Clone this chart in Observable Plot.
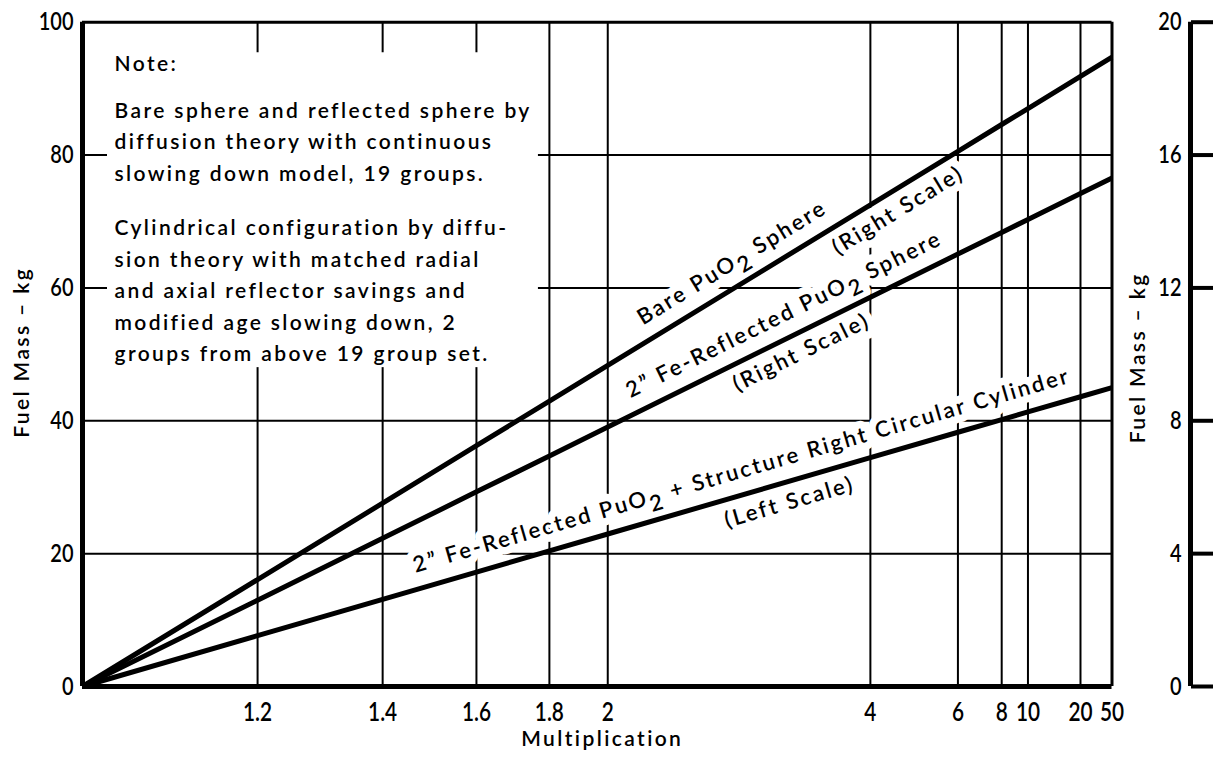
<!DOCTYPE html>
<html><head><meta charset="utf-8">
<script src="https://cdn.jsdelivr.net/npm/d3@7"></script>
<script src="https://cdn.jsdelivr.net/npm/@observablehq/plot@0.6"></script>
<style>
html,body{margin:0;padding:0;background:#fff;}
#chart svg text{font-family: Lato, "Noto Sans", sans-serif; font-weight: 600; letter-spacing: 2.4px;}
#chart svg text.num{letter-spacing: 0;}
</style>
</head><body><div id="chart"></div>
<script>
// ---- data ----
const multiplication = [1, 1.2, 1.4, 1.6, 1.8, 2, 4, 6, 8, 10, 20, 50];
const xTickLabels = [1.2, 1.4, 1.6, 1.8, 2, 4, 6, 8, 10, 20, 50];
// Bare PuO2 sphere, fuel mass kg (right scale)
const bareSphereRight = [0, 3.22, 5.52, 7.25, 8.59, 9.67, 14.50, 16.11, 16.92, 17.40, 18.37, 18.95];
// 2" Fe-reflected PuO2 sphere, fuel mass kg (right scale)
const reflectedSphereRight = [0, 2.60, 4.46, 5.86, 6.94, 7.81, 11.72, 13.02, 13.67, 14.06, 14.84, 15.31];
// 2" Fe-reflected PuO2 + structure right circular cylinder, fuel mass kg (left scale)
const cylinderLeft = [0, 7.65, 13.12, 17.22, 20.41, 22.96, 34.44, 38.27, 40.18, 41.33, 43.62, 45.00];
const leftTicks = [0, 20, 40, 60, 80, 100];
const rightTicks = [0, 4, 8, 12, 16, 20];
const yGrid = [20, 40, 60, 80];
const xLabel = "Multiplication";
const yLabel = "Fuel Mass \u2013 kg";
const noteTitle = "Note:";
const notePara1 = [
  "Bare sphere and reflected sphere by",
  "diffusion theory with continuous",
  "slowing down model, 19 groups."
];
const notePara2 = [
  "Cylindrical configuration by diffu-",
  "sion theory with matched radial",
  "and axial reflector savings and",
  "modified age slowing down, 2",
  "groups from above 19 group set."
];

// ---- layout ----
const W = 1217, H = 760;
const mT = 21.7, mR = 105.5, mB = 74, mL = 82;
const FW = W - mL - mR, FH = H - mT - mB;
const rightRatio = 100 / 20; // right scale 0-20 spans the same height as left 0-100
const k = m => 1 - 1 / m;    // multiplication axis is linear in 1 - 1/M
const xMax = k(50);

const seriesDefs = [
  {name: "bare", values: bareSphereRight, factor: rightRatio},
  {name: "reflected", values: reflectedSphereRight, factor: rightRatio},
  {name: "cylinder", values: cylinderLeft, factor: 1}
];
const rows = seriesDefs.flatMap(s => multiplication.map((m, i) => ({series: s.name, t: k(m), kg: s.values[i] * s.factor})));

function valueAt(def, m) {
  const t = k(m), v = def.values;
  for (let i = 1; i < multiplication.length; i++) {
    const t0 = k(multiplication[i - 1]), t1 = k(multiplication[i]);
    if (t <= t1) return (v[i - 1] + (v[i] - v[i - 1]) * (t - t0) / (t1 - t0)) * def.factor;
  }
  return v[v.length - 1] * def.factor;
}
function angleOf(def) {
  const last = def.values[def.values.length - 1] * def.factor;
  return Math.atan2((last / 100) * FH, FW);
}

const curveLabels = [
  {text: "Bare PuO\u2082 Sphere", s: 0, m: 2.70, side: 1, gap: 22.7},
  {text: "(Right Scale)", s: 0, m: 4.29, side: -1, gap: 19.2},
  {text: "2\u201D Fe-Reflected PuO\u2082 Sphere", s: 1, m: 3.10, side: 1, gap: 22.8},
  {text: "(Right Scale)", s: 1, m: 3.09, side: -1, gap: 18.9},
  {text: "2\u201D Fe-Reflected PuO\u2082 + Structure Right Circular Cylinder", s: 2, m: 2.73, side: 1, gap: 23.4},
  {text: "(Left Scale)", s: 2, m: 3.01, side: -1, gap: 20.3}
];

function labelMark(L, halo) {
  const def = seriesDefs[L.s];
  const th = angleOf(def);
  return Plot.text([L], {
    x: d => k(d.m), y: d => valueAt(def, d.m), text: "text",
    rotate: -th * 180 / Math.PI, textAnchor: "middle", lineAnchor: "middle",
    dx: -L.side * L.gap * Math.sin(th), dy: -L.side * L.gap * Math.cos(th),
    fontSize: 22,
    ...(halo ? {fill: "white", stroke: "white", strokeWidth: 15, strokeLinejoin: "round"} : {fill: "black"})
  });
}

const plot = Plot.plot({
  width: W, height: H,
  marginTop: mT, marginRight: mR, marginBottom: mB, marginLeft: mL,
  x: {domain: [0, xMax], axis: null},
  y: {domain: [0, 100]},
  style: {background: "white", overflow: "visible", color: "black"},
  marks: [
    // grid
    Plot.ruleY(yGrid, {stroke: "black", strokeWidth: 2}),
    Plot.ruleX(xTickLabels.filter(m => m !== 50), {x: k, stroke: "black", strokeWidth: 2}),
    // blank area behind the note
    Plot.rect([{}], {x1: 0.0238, x2: 0.434, y1: 48, y2: 95.4, fill: "white"}),
    // frame top & right
    Plot.ruleY([100], {stroke: "black", strokeWidth: 3}),
    Plot.ruleX([xMax], {stroke: "black", strokeWidth: 3}),
    // curve labels (white knock-out, then text)
    ...curveLabels.map(L => labelMark(L, true)),
    ...curveLabels.map(L => labelMark(L, false)),
    // data lines
    Plot.line(rows, {x: "t", y: "kg", z: "series", stroke: "black", strokeWidth: 5, strokeLinecap: "butt"}),
    // main axes lines
    Plot.ruleX([0], {stroke: "black", strokeWidth: 5}),
    Plot.ruleY([0], {stroke: "black", strokeWidth: 5}),
    // x tick labels
    Plot.text(xTickLabels, {x: k, frameAnchor: "bottom", dy: 26, text: d => String(d), fontSize: 26, lineAnchor: "middle", textAnchor: "middle"}),
    // left tick labels
    Plot.axisY(leftTicks, {anchor: "left", tickSize: 0, tickPadding: 9, fontSize: 25, label: null}),
    // right axis
    Plot.ruleX([xMax], {dx: 78.5, y1: 0, y2: 100, stroke: "black", strokeWidth: 5}),
    Plot.axisY(rightTicks.map(v => v * rightRatio), {anchor: "right", dx: 78.5, tickSize: 22, strokeWidth: 4, tickFormat: () => "", label: null}),
    Plot.text(rightTicks, {y: d => d * rightRatio, frameAnchor: "right", dx: 69.5, textAnchor: "end", text: d => String(d), fontSize: 25}),
    // axis titles
    Plot.text([yLabel], {frameAnchor: "left", rotate: -90, textAnchor: "middle", dx: -60, dy: -2, fontSize: 21}),
    Plot.text([yLabel], {frameAnchor: "right", rotate: -90, textAnchor: "middle", dx: 26.5, dy: 3.5, fontSize: 21}),
    Plot.text([xLabel], {frameAnchor: "bottom", textAnchor: "middle", dx: 5, dy: 59, fontSize: 21}),
    // note
    Plot.text([noteTitle], {frameAnchor: "top-left", dx: 32, dy: 33.4, textAnchor: "start", lineAnchor: "top", fontSize: 21}),
    Plot.text([notePara1.join("\n")], {frameAnchor: "top-left", dx: 32, dy: 73.4, textAnchor: "start", lineAnchor: "top", fontSize: 21, lineHeight: 1.5}),
    Plot.text([notePara2.join("\n")], {frameAnchor: "top-left", dx: 32, dy: 190.5, textAnchor: "start", lineAnchor: "top", fontSize: 21, lineHeight: 1.5})
  ]
});

// numeric tick labels are drawn condensed; subscript 2 in PuO2
const NS = "http://www.w3.org/2000/svg";
plot.querySelectorAll("text").forEach(t => {
  const s = t.textContent;
  if (/^[\d.]+$/.test(s.trim())) {
    t.classList.add("num");
    t.setAttribute("transform", (t.getAttribute("transform") || "") + " scale(0.8,1)");
  }
  if (!s.includes("\u2082") || t.querySelector("tspan")) return;
  const [a, b] = s.split("\u2082");
  t.textContent = "";
  const t1 = document.createElementNS(NS, "tspan"); t1.textContent = a;
  const t2 = document.createElementNS(NS, "tspan"); t2.setAttribute("dy", "0.35em"); t2.textContent = "2";
  const t3 = document.createElementNS(NS, "tspan"); t3.setAttribute("dy", "-0.35em"); t3.textContent = b;
  t.append(t1, t2, t3);
});
document.getElementById("chart").append(plot);
</script>
</body></html>
